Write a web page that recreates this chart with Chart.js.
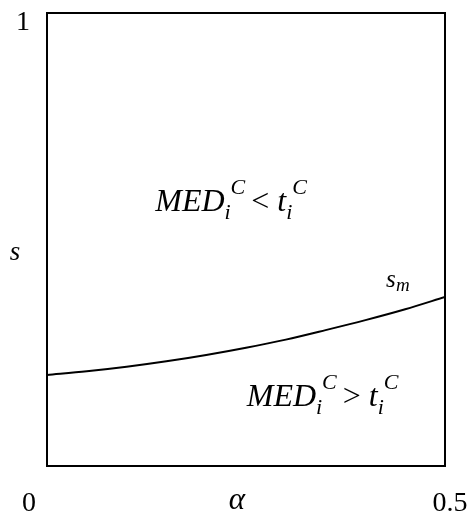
<!DOCTYPE html>
<html>
<head>
<meta charset="utf-8">
<script src="https://cdn.jsdelivr.net/npm/chart.js@4"></script>
<style>
  html, body { margin: 0; padding: 0; background: #fff; }
  #wrap { width: 473px; height: 514px; }
</style>
</head>
<body>
<div id="wrap"><canvas id="chart" width="473" height="514"></canvas></div>
<script>
// alpha along x, s along y (boundary curve s_m)
const alphaValues = [0, 0.05, 0.1, 0.15, 0.2, 0.25, 0.3, 0.35, 0.4, 0.45, 0.5];
const sValues = [0.201, 0.209, 0.219, 0.231, 0.245, 0.261, 0.279, 0.300, 0.322, 0.346, 0.373];

const xTickLabels = ['0', '0.5'];
const yTickLabels = ['1'];

const serif = '"Liberation Serif", "Times New Roman", serif';

// box round the plot area + all the text
const frameAndText = {
    id: 'frameAndText',
    afterDatasetsDraw(chart) {
        const { ctx, chartArea: a, scales } = chart;
        const x = scales.x, y = scales.y;
        ctx.save();
        ctx.strokeStyle = '#000';
        ctx.lineWidth = 2;
        ctx.strokeRect(a.left, a.top, a.right - a.left, a.bottom - a.top);

        ctx.fillStyle = '#000';
        ctx.textBaseline = 'alphabetic';
        ctx.textAlign = 'center';
        ctx.font = '28px ' + serif;
        ctx.fillText(xTickLabels[0], x.getPixelForValue(0) - 18, a.bottom + 45);
        ctx.fillText(xTickLabels[1], x.getPixelForValue(0.5) + 5, a.bottom + 45);
        ctx.fillText(yTickLabels[0], a.left - 24, y.getPixelForValue(1) + 17);

        ctx.font = 'italic 31px ' + serif;
        ctx.fillText('\u03b1', x.getPixelForValue(0.25) - 9, a.bottom + 43);
        ctx.font = 'italic 27px ' + serif;
        ctx.fillText('s', a.left - 32, y.getPixelForValue(0.47) + 7);

        // s_m next to the curve end
        ctx.textAlign = 'left';
        ctx.font = 'italic 25px ' + serif;
        let px = x.getPixelForValue(0.426), py = y.getPixelForValue(sValues[sValues.length - 1]) - 10;
        ctx.fillText('s', px, py);
        ctx.font = 'italic 19px ' + serif;
        ctx.fillText('m', px + 10, py + 4);

        drawRegion(ctx, x.getPixelForValue(0.136), y.getPixelForValue(0.563), '<');
        drawRegion(ctx, x.getPixelForValue(0.251), y.getPixelForValue(0.133), '>');
        ctx.restore();
    }
};

function drawRegion(ctx, px, py, op) {
    const big = 'italic 32px ' + serif, small = 'italic 22px ' + serif;
    let cx = px;
    ctx.textAlign = 'left';
    ctx.font = big; ctx.fillText('MED', cx, py); cx += ctx.measureText('MED').width;
    ctx.font = small; ctx.fillText('i', cx, py + 8);
    ctx.fillText('C', cx + 6, py - 17); cx += ctx.measureText('C').width + 12;
    ctx.font = '32px ' + serif; ctx.fillText(op, cx, py); cx += ctx.measureText(op).width + 8;
    ctx.font = big; ctx.fillText('t', cx, py); cx += ctx.measureText('t').width;
    ctx.font = small; ctx.fillText('i', cx, py + 8);
    ctx.fillText('C', cx + 6, py - 17);
}

new Chart(document.getElementById('chart'), {
    type: 'line',
    data: {
        datasets: [{
            data: alphaValues.map((a, i) => ({ x: a, y: sValues[i] })),
            borderColor: '#000',
            borderWidth: 2,
            pointRadius: 0,
            cubicInterpolationMode: 'monotone',
            fill: false
        }]
    },
    options: {
        responsive: false,
        animation: false,
        layout: { padding: { left: 47, right: 28, top: 13, bottom: 48 } },
        plugins: { legend: { display: false }, tooltip: { enabled: false } },
        scales: {
            x: { type: 'linear', min: 0, max: 0.5, display: false },
            y: { type: 'linear', min: 0, max: 1, display: false }
        }
    },
    plugins: [frameAndText]
});
</script>
</body>
</html>
